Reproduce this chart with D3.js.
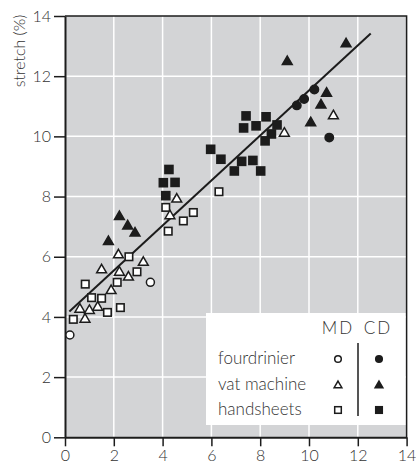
<!DOCTYPE html>
<html>
<head>
<meta charset="utf-8">
<script src="https://cdn.jsdelivr.net/npm/d3@7.9.0/dist/d3.min.js"></script>
<style>
  html, body { margin: 0; padding: 0; background: #fff; }
  svg { display: block; font-family: Lato, "Open Sans", sans-serif; }
</style>
</head>
<body>
<div id="chart"></div>
<script>
// data: [stretch MD/CD x, y] pairs
const fourdrinierMD = [[0.2, 3.4], [3.5, 5.15]];
const fourdrinierCD = [[9.5, 11.03], [9.8, 11.24], [10.22, 11.56], [10.83, 9.96]];
const vatMD = [[0.61, 4.25], [0.82, 3.92], [1.0, 4.21], [1.34, 4.32], [1.5, 5.56], [1.89, 4.87],
  [2.19, 6.06], [2.23, 5.48], [2.6, 5.32], [3.21, 5.81], [4.3, 7.36], [4.58, 7.91], [8.99, 10.1], [11.0, 10.68]];
const vatCD = [[1.78, 6.5], [2.23, 7.33], [2.57, 7.02], [2.87, 6.78], [9.11, 12.48], [10.07, 10.45],
  [10.49, 11.04], [10.72, 11.43], [11.52, 13.07]];
const handMD = [[0.34, 3.92], [0.83, 5.09], [1.09, 4.64], [1.5, 4.62], [1.74, 4.15], [2.14, 5.15],
  [2.27, 4.31], [2.62, 6.0], [2.95, 5.5], [4.13, 7.64], [4.23, 6.85], [4.85, 7.19], [5.26, 7.47], [6.31, 8.16]];
const handCD = [[4.03, 8.46], [4.13, 8.03], [4.26, 8.9], [4.51, 8.47], [5.97, 9.57], [6.39, 9.24],
  [6.94, 8.85], [7.24, 9.17], [7.32, 10.28], [7.42, 10.68], [7.7, 9.2], [7.83, 10.35], [8.02, 8.85],
  [8.2, 9.85], [8.24, 10.65], [8.46, 10.08], [8.69, 10.38]];
const fitLine = [[0.18, 4.18], [12.53, 13.42]];
const ticks = [0, 2, 4, 6, 8, 10, 12, 14];
const legendRows = ['fourdrinier', 'vat machine', 'handsheets'];
const legendCols = ['MD', 'CD'];

const width = 416;
const height = 468;
const plot = { left: 65, top: 16, right: 406.6, bottom: 437.3 };
const ink = '#1c1c1c';
const textCol = '#333';

const svg = d3.select('#chart').append('svg')
  .attr('width', width)
  .attr('height', height);

const x = d3.scaleLinear().domain([0, 14]).range([plot.left, plot.right]);
const y = d3.scaleLinear().domain([0, 14]).range([plot.bottom, plot.top]);

// background
svg.append('rect')
  .attr('x', plot.left).attr('y', plot.top)
  .attr('width', plot.right - plot.left).attr('height', plot.bottom - plot.top)
  .attr('fill', '#d3d4d6');

// gridlines
const inner = ticks.slice(1, -1);
svg.append('g').selectAll('line.vx').data(inner).join('line')
  .attr('x1', d => x(d)).attr('x2', d => x(d))
  .attr('y1', plot.top).attr('y2', plot.bottom)
  .attr('stroke', '#fff').attr('stroke-width', 1.5);
svg.append('g').selectAll('line.hy').data(inner).join('line')
  .attr('y1', d => y(d)).attr('y2', d => y(d))
  .attr('x1', plot.left).attr('x2', plot.right)
  .attr('stroke', '#fff').attr('stroke-width', 1.5);

// top / right frame
svg.append('path')
  .attr('d', `M${plot.left},${plot.top}H${plot.right}V${plot.bottom}`)
  .attr('fill', 'none').attr('stroke', ink).attr('stroke-width', 1.5);

// axes
const xAxis = svg.append('g')
  .attr('transform', `translate(0,${plot.bottom})`)
  .call(d3.axisBottom(x).tickValues(ticks).tickSize(9).tickPadding(3).tickSizeOuter(0));
const yAxis = svg.append('g')
  .attr('transform', `translate(${plot.left},0)`)
  .call(d3.axisLeft(y).tickValues(ticks).tickSize(11).tickPadding(3).tickSizeOuter(0));
[xAxis, yAxis].forEach(a => {
  a.select('.domain').attr('stroke', ink).attr('stroke-width', 2);
  a.selectAll('.tick line').attr('stroke', ink).attr('stroke-width', 1.5);
  a.selectAll('.tick text')
    .attr('fill', textCol)
    .style('font-size', '16px')
    .style('font-weight', 300)
    .style('font-family', 'Lato, sans-serif');
});

svg.append('text')
  .attr('transform', `translate(25,51) rotate(-90)`)
  .attr('text-anchor', 'middle')
  .attr('fill', textCol)
  .style('font-size', '16px')
  .style('font-weight', 300)
  .text('stretch (%)');

// legend box (drawn below markers)
const legend = svg.append('g');
legend.append('rect')
  .attr('x', 206).attr('y', 313).attr('width', 199.5).attr('height', 112)
  .attr('fill', '#fff');

// regression line
svg.append('path')
  .datum(fitLine)
  .attr('d', d3.line().x(d => x(d[0])).y(d => y(d[1])))
  .attr('stroke', ink).attr('stroke-width', 2).attr('fill', 'none');

// markers
const marks = svg.append('g');
const tri = d3.symbol().type(d3.symbolTriangle);

function circles(data, filled, r) {
  marks.append('g').selectAll('circle').data(data).join('circle')
    .attr('cx', d => x(d[0])).attr('cy', d => y(d[1]))
    .attr('r', r)
    .attr('fill', filled ? ink : '#fff')
    .attr('stroke', ink).attr('stroke-width', 1.5);
}
function squares(data, filled, s) {
  marks.append('g').selectAll('rect').data(data).join('rect')
    .attr('x', d => x(d[0]) - s / 2).attr('y', d => y(d[1]) - s / 2)
    .attr('width', s).attr('height', s)
    .attr('fill', filled ? ink : '#fff')
    .attr('stroke', ink).attr('stroke-width', 1.6);
}
function triangles(data, filled, size) {
  marks.append('g').selectAll('path').data(data).join('path')
    .attr('transform', d => `translate(${x(d[0])},${y(d[1])})`)
    .attr('d', tri.size(size))
    .attr('fill', filled ? ink : '#fff')
    .attr('stroke', ink).attr('stroke-width', 1.5)
    .attr('stroke-linejoin', 'miter');
}

squares(handMD, false, 7.5);
triangles(vatMD, false, 42);
circles(fourdrinierMD, false, 4);
squares(handCD, true, 8);
triangles(vatCD, true, 42);
circles(fourdrinierCD, true, 4.2);

// legend content
const lg = legend.append('g');
lg.selectAll('text.col').data(legendCols).join('text')
  .attr('x', (d, i) => [338, 378][i]).attr('y', 334)
  .attr('text-anchor', 'middle')
  .attr('fill', textCol)
  .style('font-size', '17px').style('font-weight', 300)
  .style('letter-spacing', '2px')
  .text(d => d);
lg.selectAll('text.row').data(legendRows).join('text')
  .attr('x', 218).attr('y', (d, i) => [364, 390, 415][i])
  .attr('fill', textCol)
  .style('font-size', '17px').style('font-weight', 300)
  .text(d => d);
lg.append('line')
  .attr('x1', 358).attr('x2', 358).attr('y1', 343).attr('y2', 416)
  .attr('stroke', ink).attr('stroke-width', 1.5);

const rowY = [359, 385.5, 410];
[false, true].forEach((filled, c) => {
  const cx = [338, 379][c];
  lg.append('circle').attr('cx', cx).attr('cy', rowY[0]).attr('r', 3.3)
    .attr('fill', filled ? ink : '#fff').attr('stroke', ink).attr('stroke-width', 1.5);
  lg.append('path').attr('transform', `translate(${cx},${rowY[1]})`)
    .attr('d', d3.symbol().type(d3.symbolTriangle).size(26))
    .attr('fill', filled ? ink : '#fff').attr('stroke', ink).attr('stroke-width', 1.5);
  lg.append('rect').attr('x', cx - 3.3).attr('y', rowY[2] - 3.3).attr('width', 6.6).attr('height', 6.6)
    .attr('fill', filled ? ink : '#fff').attr('stroke', ink).attr('stroke-width', 1.5);
});
</script>
</body>
</html>
